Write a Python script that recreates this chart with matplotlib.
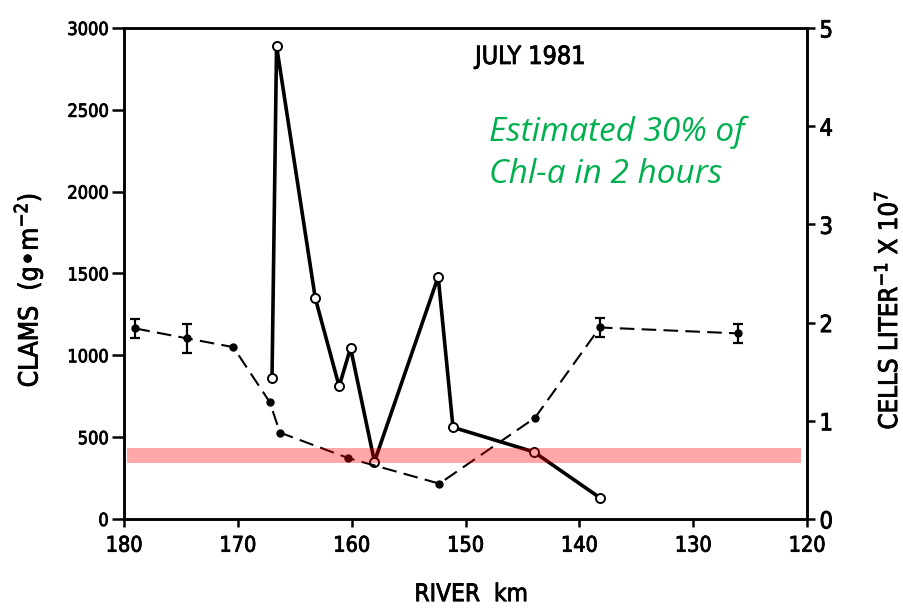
import matplotlib
matplotlib.use("Agg")
import matplotlib.pyplot as plt
import matplotlib.patheffects as pe

plt.rcParams['font.family'] = ['DejaVu Sans']
plt.rcParams['font.stretch'] = 'condensed'

# clam biomass along the river (open circles, solid line)
km_clams = [167.0, 166.6, 163.2, 161.1, 160.1, 158.0, 152.4, 151.1, 144.0, 138.2]
clams = [860, 2890, 1350, 810, 1045, 350, 1480, 560, 410, 130]

# phytoplankton cells (filled dots, dashed line), x 10^7 per liter
km_cells = [179.0, 174.5, 170.4, 167.2, 166.3, 160.3, 152.3, 143.9, 138.2, 126.1]
cells = [1.94, 1.84, 1.75, 1.19, 0.88, 0.62, 0.36, 1.03, 1.95, 1.89]
cells_err = [0.10, 0.15, 0, 0, 0, 0, 0, 0, 0.10, 0.10]

# highlighted clam level band (g m-2)
band_lo, band_hi = 342, 434
band_km = (179.7, 120.5)

# slightly heavier strokes for the typewriter-ish lettering
thick = [pe.withStroke(linewidth=0.6, foreground='black')]

fig = plt.figure(figsize=(9.04, 6.08), dpi=100)
ax1 = fig.add_axes([0.1372, 0.1464, 0.7555, 0.8076])
ax2 = ax1.twinx()

ax1.plot(km_clams, clams, '-o', color='black', lw=2.6, ms=6.5,
         mfc='white', mec='black', mew=1.4, zorder=3)

ax2.plot(km_cells, cells, '--o', color='black', lw=1.5, ms=5,
         dashes=(7, 3.5), zorder=3)
ek = [k for k, e in zip(km_cells, cells_err) if e > 0]
ev = [c for c, e in zip(cells, cells_err) if e > 0]
ee = [e for e in cells_err if e > 0]
ax2.errorbar(ek, ev, yerr=ee, fmt='none', ecolor='black', elinewidth=1.6,
             capsize=3.5, capthick=1.6, zorder=3)

# translucent band on top of both series
ax2.fill_between(band_km, [band_lo / 600] * 2, [band_hi / 600] * 2,
                 color='red', alpha=0.34, lw=0, zorder=6)

ax1.set_xlim(180, 120)
ax1.set_ylim(0, 3000)
ax2.set_ylim(0, 5)
ax1.set_xticks([180, 170, 160, 150, 140, 130, 120])
ax1.set_yticks([0, 500, 1000, 1500, 2000, 2500, 3000])
ax2.set_yticks([0, 1, 2, 3, 4, 5])

for ax in (ax1, ax2):
    for s in ax.spines.values():
        s.set_linewidth(1.8)
ax1.tick_params(axis='y', width=1.8, length=9, labelsize=13, pad=2)
ax1.tick_params(axis='x', width=1.8, length=6, labelsize=15.5, pad=6)
ax2.tick_params(axis='y', width=1.8, length=6, labelsize=17, pad=3)
for t in ax1.get_xticklabels() + ax1.get_yticklabels() + ax2.get_yticklabels():
    t.set_path_effects(thick)

ax1.text(-0.14, 0.466, 'CLAMS  (g•m$^{-2}$)', transform=ax1.transAxes,
         rotation=90, ha='center', va='center', fontsize=19,
         path_effects=thick)
ax1.text(1.12, 0.426, 'CELLS LITER$^{-1}$ X 10$^{7}$', transform=ax1.transAxes,
         rotation=90, ha='center', va='center', fontsize=18.5,
         path_effects=thick)
ax1.text(0.508, -0.153, 'RIVER  km', transform=ax1.transAxes,
         ha='center', va='center', fontsize=17.5, path_effects=thick)

ax1.text(0.514, 0.941, 'JULY 1981', transform=ax1.transAxes,
         fontsize=18, ha='left', va='center', path_effects=thick)
ax1.text(0.535, 0.745, 'Estimated 30% of\nChl-a in 2 hours',
         transform=ax1.transAxes, fontsize=24, style='italic',
         family=['Open Sans', 'DejaVu Sans'], stretch='normal', weight='normal',
         color='#00b050', ha='left', va='center', linespacing=1.35)

fig.savefig('out.png', dpi=100)
